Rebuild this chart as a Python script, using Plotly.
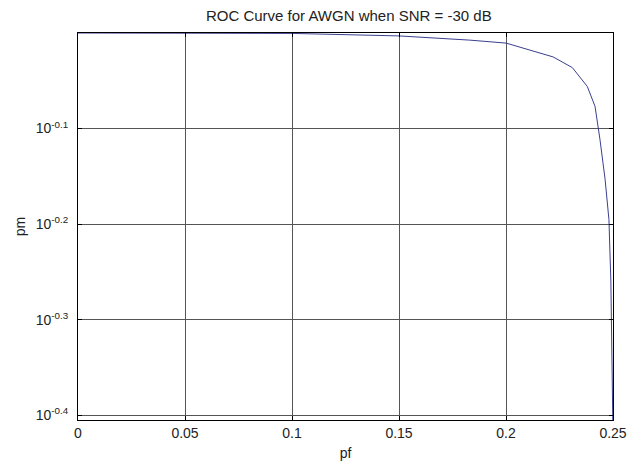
import plotly.graph_objects as go

# ROC data
pf = [0.0, 0.05, 0.10, 0.15, 0.183, 0.20, 0.222, 0.231, 0.238, 0.2416, 0.2439, 0.2463, 0.2481, 0.2490, 0.2495, 0.2500]
pm = [1.0, 1.0, 0.999, 0.993, 0.983, 0.976, 0.944, 0.920, 0.879, 0.838, 0.774, 0.703, 0.638, 0.55, 0.45, 0.38]

x_ticks = [0, 0.05, 0.1, 0.15, 0.2, 0.25]
x_labels = ["0", "0.05", "0.1", "0.15", "0.2", "0.25"]
y_exps = [-0.4, -0.3, -0.2, -0.1]
y_ticks = [10 ** e for e in y_exps]
y_labels = ["10<sup>%.1f</sup>" % e for e in y_exps]

fig = go.Figure()
fig.add_trace(go.Scatter(x=pf, y=pm, mode="lines",
                         line=dict(color="#3a3f8f", width=1), showlegend=False))

font = dict(family="Liberation Sans, Arial, sans-serif", size=14, color="#222")
fig.update_layout(
    width=634, height=455,
    margin=dict(l=70, r=29, t=25, b=43),
    paper_bgcolor="white", plot_bgcolor="white",
    font=font,
    title=dict(text="ROC Curve for AWGN when SNR = -30 dB", x=0.5375, xanchor="center",
               y=0.995, yanchor="top", font=dict(size=15, color="#222")),
    xaxis=dict(range=[0, 0.25], tickvals=x_ticks, ticktext=x_labels,
               showgrid=True, gridcolor="#555", gridwidth=1,
               showline=True, linecolor="black", linewidth=1, mirror="ticks",
               ticks="inside", ticklen=4, tickcolor="black",
               zeroline=False, automargin=False,
               title=dict(text="pf", standoff=8, font=dict(size=14))),
    yaxis=dict(type="log", range=[-0.405, 0.0], tickvals=y_ticks, ticktext=y_labels,
               showgrid=True, gridcolor="#555", gridwidth=1,
               showline=True, linecolor="black", linewidth=1, mirror="ticks",
               ticks="inside", ticklen=4, tickcolor="black", ticklabelstandoff=6,
               zeroline=False, automargin=False,
               title=dict(text="pm", standoff=6, font=dict(size=14))),
)
fig.write_html("out.html")
